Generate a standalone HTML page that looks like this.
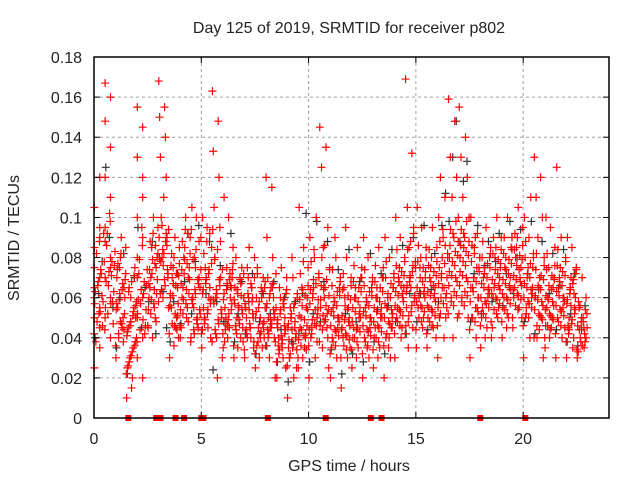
<!DOCTYPE html>
<html><head><meta charset="utf-8"><style>
html,body{margin:0;padding:0;background:#fff}
svg{display:block;font-family:"Liberation Sans",sans-serif}
</style></head><body>
<svg id="chart" width="640" height="480" viewBox="0 0 640 480">
<rect x="0" y="0" width="640" height="480" fill="#fff"/>
<g id="grid"></g>
<g id="pts"></g>
<rect x="94" y="57" width="515" height="361" fill="none" stroke="#000" stroke-width="1.5"/>
<g id="ticks"></g>
<text x="349" y="33" text-anchor="middle" font-size="16" fill="#222">Day 125 of 2019, SRMTID for receiver p802</text>
<text x="349" y="471" text-anchor="middle" font-size="16" fill="#222">GPS time / hours</text>
<text transform="translate(19,238) rotate(-90)" text-anchor="middle" font-size="16" fill="#222">SRMTID / TECUs</text>
</svg>
<script>
const xTicks=[0,5,10,15,20];
const yTicks=[0,0.02,0.04,0.06,0.08,0.1,0.12,0.14,0.16,0.18];
const yTickLabels=["0","0.02","0.04","0.06","0.08","0.1","0.12","0.14","0.16","0.18"];
const binStarts=[0,0.5,1,1.5,2,2.5,3,3.5,4,4.5,5,5.5,6,6.5,7,7.5,8,8.5,9,9.5,10,10.5,11,11.5,12,12.5,13,13.5,14,14.5,15,15.5,16,16.5,17,17.5,18,18.5,19,19.5,20,20.5,21,21.5,22,22.5];
const redMilli=[
[25,45,60,70,85,95,105,120,50,35,75,90,65,55],
[167,160,148,135,120,110,95,80,70,60,50,40,88,75],
[30,45,55,65,75,85,90,70,50,40,60,80],
[10,20,25,35,45,55,65,75,30,50,60,40,15],
[155,145,130,120,100,90,80,60,50,40,30,20,70,110],
[45,55,65,75,85,95,100,60,50,70,80,40],
[168,155,150,140,130,120,100,90,80,70,60,55,110],
[30,45,55,65,75,85,90,60,50,70,40,80],
[40,50,60,70,80,90,100,45,55,65,75,85],
[40,50,60,70,80,90,100,105,45,55,65,75],
[35,45,55,65,75,85,95,100,60,50,40,70],
[163,148,133,120,105,95,80,70,60,50,40,30,20],
[35,45,55,65,75,85,100,110,60,50,70,40],
[30,40,50,60,70,80,45,55,65,75,35],
[30,40,50,60,70,80,45,55,65,75,35,85],
[25,35,45,55,65,75,40,50,60,70,30],
[120,115,90,80,70,60,50,40,30,20,45,55,65],
[20,30,40,50,60,70,35,45,55,65,25,75],
[10,20,30,40,50,60,70,35,45,55,25,80],
[25,35,45,55,65,75,85,105,40,50,60,30],
[20,30,40,50,60,70,80,90,100,45,55,65],
[145,135,125,95,85,75,65,55,45,35,25,60],
[20,30,40,50,60,70,80,35,45,55,65,90],
[15,30,40,50,60,70,80,45,55,65,35,95],
[25,35,45,55,65,75,85,40,50,60,70,30],
[20,30,40,50,60,70,80,90,45,55,65,35],
[25,35,45,55,65,75,85,40,50,60,70,30],
[20,30,40,50,60,70,80,90,45,55,65,35],
[30,40,50,60,70,80,90,100,45,55,65,75],
[169,132,105,95,85,75,65,55,45,35,60,70],
[35,45,55,65,75,85,95,105,50,60,70,80],
[35,45,55,65,75,85,95,50,60,70,40,80],
[30,40,50,60,70,80,90,100,110,120,55,65],
[159,148,130,120,110,100,90,80,70,60,50,40],
[155,140,130,120,110,100,90,80,70,60,50,85],
[30,40,50,60,70,80,90,100,55,65,75,85],
[35,45,55,65,75,85,95,50,60,70,80,40],
[40,50,60,70,80,90,100,45,55,65,75,85],
[40,50,60,70,80,90,100,55,65,75,85,45],
[45,55,65,75,85,95,105,60,70,80,50,90],
[30,40,50,60,70,80,90,100,110,55,65,75],
[130,120,110,100,90,80,70,60,50,40,30,65],
[35,45,55,65,75,85,95,100,50,60,70,40],
[30,40,50,60,70,80,90,125,55,65,45,75],
[30,35,45,55,65,75,85,90,40,50,60,70],
[30,35,40,45,50,55,60,70,33,38,48]
];
const redDenseMilli=[
[42,48,53,58,63,68,72,78,82,88,46,57,66,74,92,38,52,61],
[44,52,57,63,68,73,78,83,92,98,47,55,66,71,76,86,102,58],
[36,42,47,52,57,62,67,72,77,82,44,54,59,64,69,74,48,38],
[22,28,33,38,43,48,53,58,63,68,36,41,46,51,56,26,31,71],
[38,44,49,54,59,64,68,74,79,86,46,52,57,62,66,72,95,42],
[46,52,57,62,67,72,77,82,88,92,48,54,59,64,69,74,79,86],
[58,64,69,74,79,84,88,94,78,82,86,90,96,66,72,62,76,92],
[42,47,52,57,62,67,72,77,82,46,51,56,61,66,71,76,36,44],
[46,52,57,62,67,72,77,82,88,94,48,54,59,64,69,74,79,92],
[38,44,49,54,59,64,69,74,79,84,88,94,42,47,52,57,62,67],
[42,47,52,57,62,67,72,77,82,88,92,44,49,54,59,64,69,74],
[38,44,49,54,59,64,69,74,79,84,88,94,42,47,52,57,62,66],
[42,47,52,57,62,67,72,77,44,49,54,59,64,69,74,38,46,66],
[36,42,47,52,57,62,67,72,44,49,54,59,64,69,38,46,56,61],
[34,40,45,50,55,60,65,70,42,47,52,57,62,67,38,44,54,58],
[32,38,43,48,53,58,63,68,72,40,45,50,55,60,65,36,42,47],
[36,42,47,52,57,62,67,72,40,45,50,55,60,65,38,44,49,54],
[28,34,39,44,49,54,59,64,32,37,42,47,52,57,62,36,41,46],
[26,32,37,42,47,52,57,62,30,35,40,45,50,55,34,39,44,48],
[30,36,41,46,51,56,61,66,72,78,34,39,44,49,54,59,64,42],
[36,42,47,52,57,62,67,72,78,84,38,44,49,54,59,64,69,46],
[38,44,49,54,59,64,69,74,80,86,40,46,51,56,61,66,48,52],
[32,38,43,48,53,58,63,68,74,36,41,46,51,56,61,66,44,50],
[30,36,41,46,51,56,61,66,72,34,39,44,49,54,59,64,42,48],
[34,40,45,50,55,60,65,70,76,38,43,48,53,58,63,68,44,52],
[32,38,43,48,53,58,63,68,74,36,41,46,51,56,61,66,44,50],
[34,40,45,50,55,60,65,70,76,38,43,48,53,58,63,68,46,52],
[36,42,47,52,57,62,67,72,78,40,45,50,55,60,65,70,48,54],
[42,48,53,58,63,68,73,78,84,46,51,56,61,66,71,76,54,62],
[42,48,53,58,63,68,73,78,84,88,92,46,51,56,61,66,71,76],
[44,50,55,60,65,70,75,80,86,48,53,58,63,68,73,78,56,62],
[42,48,53,58,63,68,73,78,84,46,51,56,61,66,71,76,54,62],
[46,52,57,62,67,72,77,82,88,94,50,55,60,65,70,75,80,86],
[52,58,63,68,73,78,83,88,94,56,61,66,71,76,81,86,92,98],
[52,58,63,68,73,78,83,88,94,56,61,66,71,76,81,86,92,98],
[44,50,55,60,65,70,75,80,86,48,53,58,63,68,73,78,82,92],
[46,52,57,62,67,72,77,82,88,50,55,60,65,70,75,80,58,64],
[48,54,59,64,69,74,79,84,90,52,57,62,67,72,77,82,60,66],
[48,54,59,64,69,74,79,84,90,52,57,62,67,72,77,82,60,66],
[50,56,61,66,71,76,81,86,92,54,59,64,69,74,79,84,62,68],
[46,52,57,62,67,72,77,82,88,50,55,60,65,70,75,80,58,64],
[40,46,51,56,61,66,71,76,82,44,49,54,59,64,69,74,52,58],
[40,46,51,56,61,66,71,76,82,44,49,54,59,64,69,74,52,58],
[42,48,53,58,63,68,73,78,84,46,51,56,61,66,71,76,54,60],
[38,44,49,54,59,64,69,74,42,47,52,57,62,67,72,46,56,62],
[34,38,42,46,50,54,58,36,40,44,48,52,56,45]
];
const greyMilli=[
[40,62,78],[125,90,55],[35,60,82],[22,48,70],[95,45,65],[58,88,42],[80,63,45],[38,58,72],
[47,68,92],[52,78,96],[44,62,88],[24,58,76],[48,66,92],[38,52,68],[42,58,72],[32,48,62],
[36,52,68],[28,44,60],[18,38,58],[42,62,102],[28,52,98],[48,68,88],[34,58,74],[22,52,84],
[32,48,68],[28,58,82],[38,54,72],[32,56,84],[48,68,86],[42,62,90],[48,62,96],[44,64,82],
[58,96,112],[98,130,148],[88,118,128],[48,72,96],[52,76,88],[58,78,92],[56,72,98],[62,80,94],
[48,72,98],[42,64,88],[46,62,82],[44,66,84],[38,52,72],[36,44,56]
];
const zeroHours=[1.6,2.9,3.1,3.8,4.2,5.0,5.1,8.1,10.8,12.9,13.4,18.0,20.1];
const X=h=>94+h*21.458;
const Y=v=>418-v*2005.5;
const NS="http://www.w3.org/2000/svg";
const grid=document.getElementById('grid'),ticks=document.getElementById('ticks'),pts=document.getElementById('pts');
function mk(tag,attrs,parent){const e=document.createElementNS(NS,tag);for(const k in attrs)e.setAttribute(k,attrs[k]);parent.appendChild(e);return e;}
xTicks.forEach(t=>{
 const x=X(t);
 if(t>0){const g=mk('line',{x1:x,x2:x,y1:57,y2:418,stroke:'#a0a0a0','stroke-dasharray':'3,3'},grid);
 
 }
 mk('line',{x1:x,x2:x,y1:418,y2:412,stroke:'#000'},ticks);
 mk('line',{x1:x,x2:x,y1:57,y2:63,stroke:'#000'},ticks);
 const l=mk('text',{x:x,y:444,'text-anchor':'middle','font-size':16,fill:'#222'},ticks);
 l.textContent=String(t);
 
 
});
yTicks.forEach((t,i)=>{
 const y=Y(t);
 if(i>0&&i<yTicks.length-1){const g=mk('line',{x1:94,x2:609,y1:y,y2:y,stroke:'#a0a0a0','stroke-dasharray':'3,3'},grid);
 
 }
 mk('line',{x1:94,x2:100,y1:y,y2:y,stroke:'#000'},ticks);
 mk('line',{x1:603,x2:609,y1:y,y2:y,stroke:'#000'},ticks);
 const l=mk('text',{x:82,y:y+6,'text-anchor':'end','font-size':16,fill:'#222'},ticks);
 l.textContent=yTickLabels[i];
 
 
});
function plus(h,v,color,name){
 const x=X(h),y=Y(v);
 const p=mk('path',{d:`M${x-4},${y}h8M${x},${y-4}v8`,stroke:color,'stroke-width':1.2,fill:'none'},pts);
 
 
}
binStarts.forEach((b,i)=>{
 const g=greyMilli[i];
 g.forEach((v,j)=>plus(b+(j+0.3)*0.5/g.length,v/1000,'#333','grey-point'));
});
binStarts.forEach((b,i)=>{
 const r=redMilli[i];
 r.forEach((v,j)=>plus(b+((j*7)%r.length+0.5)*0.5/r.length,v/1000,'#ff0000','red-point'));
 const d=redDenseMilli[i];
 d.forEach((v,j)=>plus(b+((j*5)%d.length+0.2)*0.5/d.length,v/1000,'#ff0000','red-point'));
});
zeroHours.forEach(h=>{
 const r=mk('rect',{x:X(h)-3,y:415,width:6,height:6,fill:'#ff0000'},pts);
 
 
});
</script>
</body></html>
